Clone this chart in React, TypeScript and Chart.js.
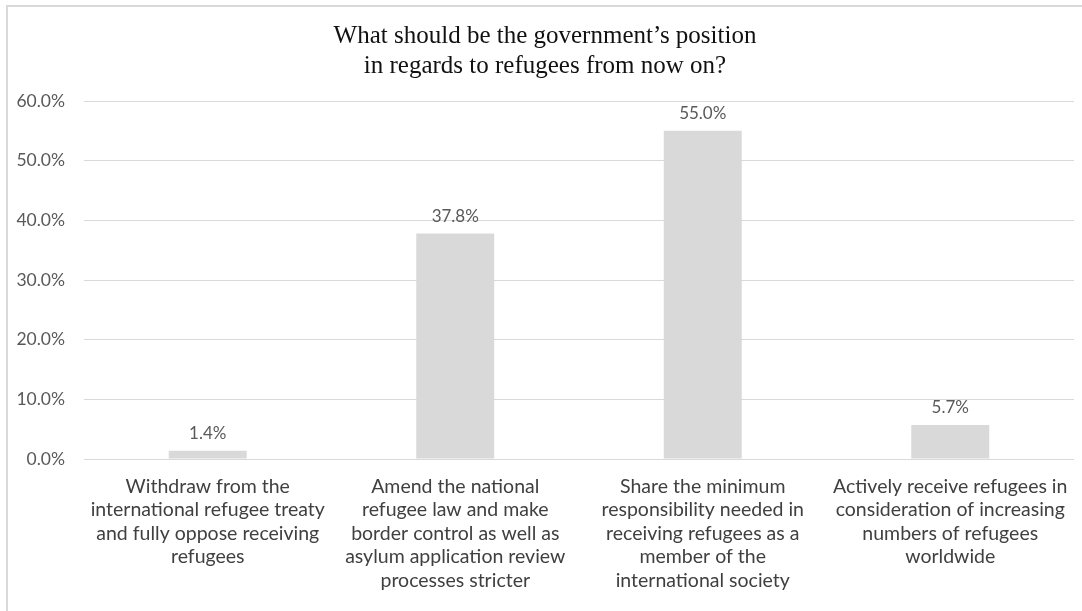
import React, { useEffect, useRef } from "react";
import { Chart, registerables } from "chart.js";

Chart.register(...registerables);

const titleLines: string[] = [
  "What should be the government\u2019s position",
  "in regards to refugees from now on?",
];

const categories: string[][] = [
  ["Withdraw from the", "international refugee treaty", "and fully oppose receiving", "refugees"],
  ["Amend the national", "refugee law and make", "border control as well as", "asylum application review", "processes stricter"],
  ["Share the minimum", "responsibility needed in", "receiving refugees as a", "member of the", "international society"],
  ["Actively receive refugees in", "consideration of increasing", "numbers of refugees", "worldwide"],
];

const values: number[] = [1.4, 37.8, 55.0, 5.7];

const yMin = 0;
const yMax = 60;
const yStep = 10;

const SANS = "Lato, 'Open Sans', sans-serif";

export default function App() {
  const ref = useRef<HTMLCanvasElement | null>(null);

  useEffect(() => {
    if (!ref.current) return;

    const frame = {
      id: "frame",
      beforeDraw(chart: any) {
        const ctx = chart.ctx;
        ctx.save();
        ctx.fillStyle = "#ffffff";
        ctx.fillRect(0, 0, chart.width, chart.height);
        ctx.strokeStyle = "#d9d9d9";
        ctx.lineWidth = 2;
        ctx.strokeRect(7, 6, chart.width + 20, chart.height + 20);
        ctx.restore();
      },
    };

    const dataLabels = {
      id: "dataLabels",
      afterDatasetsDraw(chart: any) {
        const ctx = chart.ctx;
        const meta = chart.getDatasetMeta(0);
        ctx.save();
        ctx.font = `17px ${SANS}`;
        ctx.fillStyle = "#595959";
        ctx.textAlign = "center";
        ctx.textBaseline = "middle";
        meta.data.forEach((bar: any, i: number) => {
          ctx.fillText(values[i].toFixed(1) + "%", bar.x, bar.y - 17);
        });
        ctx.restore();
      },
    };

    const chart = new Chart(ref.current, {
      type: "bar",
      data: {
        labels: categories,
        datasets: [
          {
            data: values,
            backgroundColor: "#d9d9d9",
            borderWidth: 0,
            categoryPercentage: 0.315,
            barPercentage: 1,
          },
        ],
      },
      options: {
        responsive: false,
        animation: false,
        devicePixelRatio: 1,
        layout: { padding: { left: 16, right: 8, top: 0, bottom: 0 } },
        plugins: {
          legend: { display: false },
          tooltip: { enabled: false },
          title: {
            display: true,
            text: titleLines,
            color: "#111111",
            font: { family: "'Liberation Serif', 'Times New Roman', serif", size: 25, weight: "normal", lineHeight: 1.2 },
            padding: { top: 21, bottom: 20 },
          },
        },
        scales: {
          x: {
            grid: { display: false, drawTicks: false },
            border: { display: false },
            ticks: {
              color: "#404040",
              font: { family: SANS, size: 19.5, lineHeight: 1.2 },
              padding: 16,
              maxRotation: 0,
              autoSkip: false,
            },
            afterFit: (s: any) => {
              s.height = 152;
              s.paddingLeft = 0;
              s.paddingRight = 0;
            },
          },
          y: {
            min: yMin,
            max: yMax,
            grid: { color: "#d9d9d9", lineWidth: 1, drawTicks: false },
            border: { display: false },
            ticks: {
              stepSize: yStep,
              color: "#595959",
              font: { family: SANS, size: 17.5 },
              padding: 19,
              callback: (v: any) => Number(v).toFixed(1) + "%",
            },
            afterFit: (s: any) => {
              s.width = 68;
            },
          },
        },
      },
      plugins: [frame, dataLabels],
    });

    return () => chart.destroy();
  }, []);

  return (
    <div style={{ position: "absolute", left: 0, top: 0, width: 1082, height: 611 }}>
      <canvas ref={ref} width={1082} height={611} />
    </div>
  );
}
